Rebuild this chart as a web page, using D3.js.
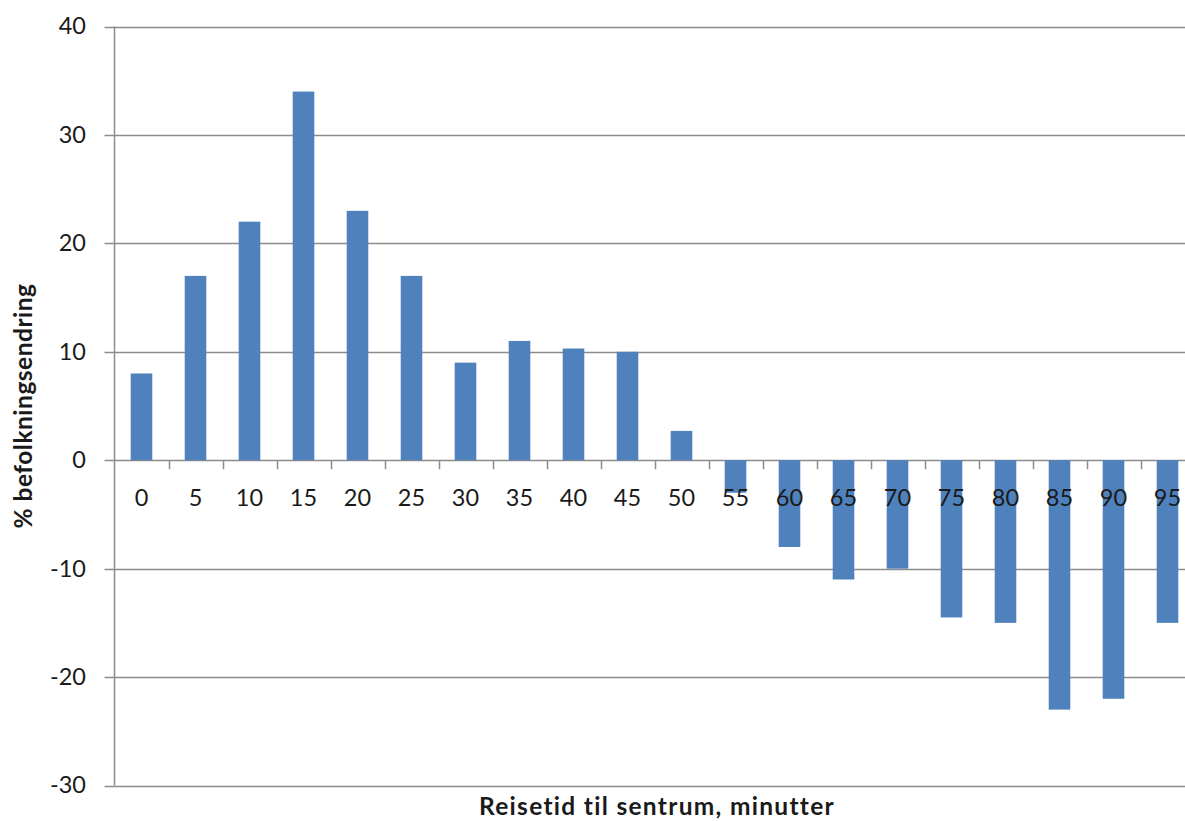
<!DOCTYPE html>
<html>
<head>
<meta charset="utf-8">
<script src="https://cdn.jsdelivr.net/npm/d3@7"></script>
<style>
  html, body { margin: 0; padding: 0; background: #fff; }
  svg { display: block; }
  text { font-family: Lato, "Open Sans", sans-serif; fill: #1a1a1a; }
</style>
</head>
<body>
<svg id="chart" width="1185" height="821"></svg>
<script>
// Travel time to centre (minutes) and population change in percent
const categories = ["0","5","10","15","20","25","30","35","40","45","50","55","60","65","70","75","80","85","90","95"];
const values = [8, 17, 22, 34, 23, 17, 9, 11, 10.3, 10, 2.7, -3, -8, -11, -10, -14.5, -15, -23, -22, -15];
const yTicks = [-30, -20, -10, 0, 10, 20, 30, 40];
const xTitle = "Reisetid til sentrum, minutter";
const yTitle = "% befolkningsendring";

const svg = d3.select("#chart");
const plotLeft = 114.5, plotRight = 1194.5, plotTop = 26.5, plotBottom = 785.5;

const x = d3.scaleBand().domain(categories).range([plotLeft, plotRight]).paddingInner(0.6).paddingOuter(0.3);
const y = d3.scaleLinear().domain([-30, 40]).range([plotBottom, plotTop]);

const gridColor = "#8c8c8c";

// horizontal gridlines, with small tick stubs to the left of the axis
svg.append("g").selectAll("line").data(yTicks).join("line")
  .attr("x1", plotLeft - 10).attr("x2", 1185)
  .attr("y1", d => Math.round(y(d)) + 0.5).attr("y2", d => Math.round(y(d)) + 0.5)
  .attr("stroke", gridColor).attr("stroke-width", 1.5);

// bars
svg.append("g").selectAll("rect").data(values).join("rect")
  .attr("x", (d, i) => x(categories[i]))
  .attr("width", x.bandwidth())
  .attr("y", d => y(Math.max(0, d)))
  .attr("height", d => Math.abs(y(d) - y(0)))
  .attr("fill", "#4f81bd");

// vertical axis line
svg.append("line")
  .attr("x1", plotLeft).attr("x2", plotLeft).attr("y1", plotTop).attr("y2", plotBottom)
  .attr("stroke", gridColor).attr("stroke-width", 1.5);

// category axis at zero with boundary ticks
const step = x.step();
const boundaries = d3.range(1, categories.length + 1).map(i => plotLeft + i * step);
svg.append("g").selectAll("line").data(boundaries).join("line")
  .attr("x1", d => Math.round(d) + 0.5).attr("x2", d => Math.round(d) + 0.5)
  .attr("y1", y(0)).attr("y2", y(0) + 9)
  .attr("stroke", gridColor).attr("stroke-width", 1.5);

// y tick labels
svg.append("g").selectAll("text").data(yTicks).join("text")
  .attr("x", 86).attr("y", d => y(d))
  .attr("dy", "0.34em")
  .attr("text-anchor", "end")
  .attr("font-size", 23.5)
  .text(d => d);

// category labels just below the zero line
svg.append("g").selectAll("text").data(categories).join("text")
  .attr("x", d => x(d) + x.bandwidth() / 2)
  .attr("y", y(0) + 38)
  .attr("dy", "0.34em")
  .attr("text-anchor", "middle")
  .attr("font-size", 23.5)
  .text(d => d);

// axis titles
svg.append("text")
  .attr("x", 657).attr("y", 815)
  .attr("text-anchor", "middle")
  .attr("font-size", 24.5).attr("font-weight", "bold")
  .attr("letter-spacing", 1.3)
  .text(xTitle);

svg.append("text")
  .attr("transform", `translate(32,406) rotate(-90)`)
  .attr("text-anchor", "middle")
  .attr("font-size", 24.5).attr("font-weight", "bold")
  .attr("letter-spacing", 0.5)
  .text(yTitle);
</script>
</body>
</html>
